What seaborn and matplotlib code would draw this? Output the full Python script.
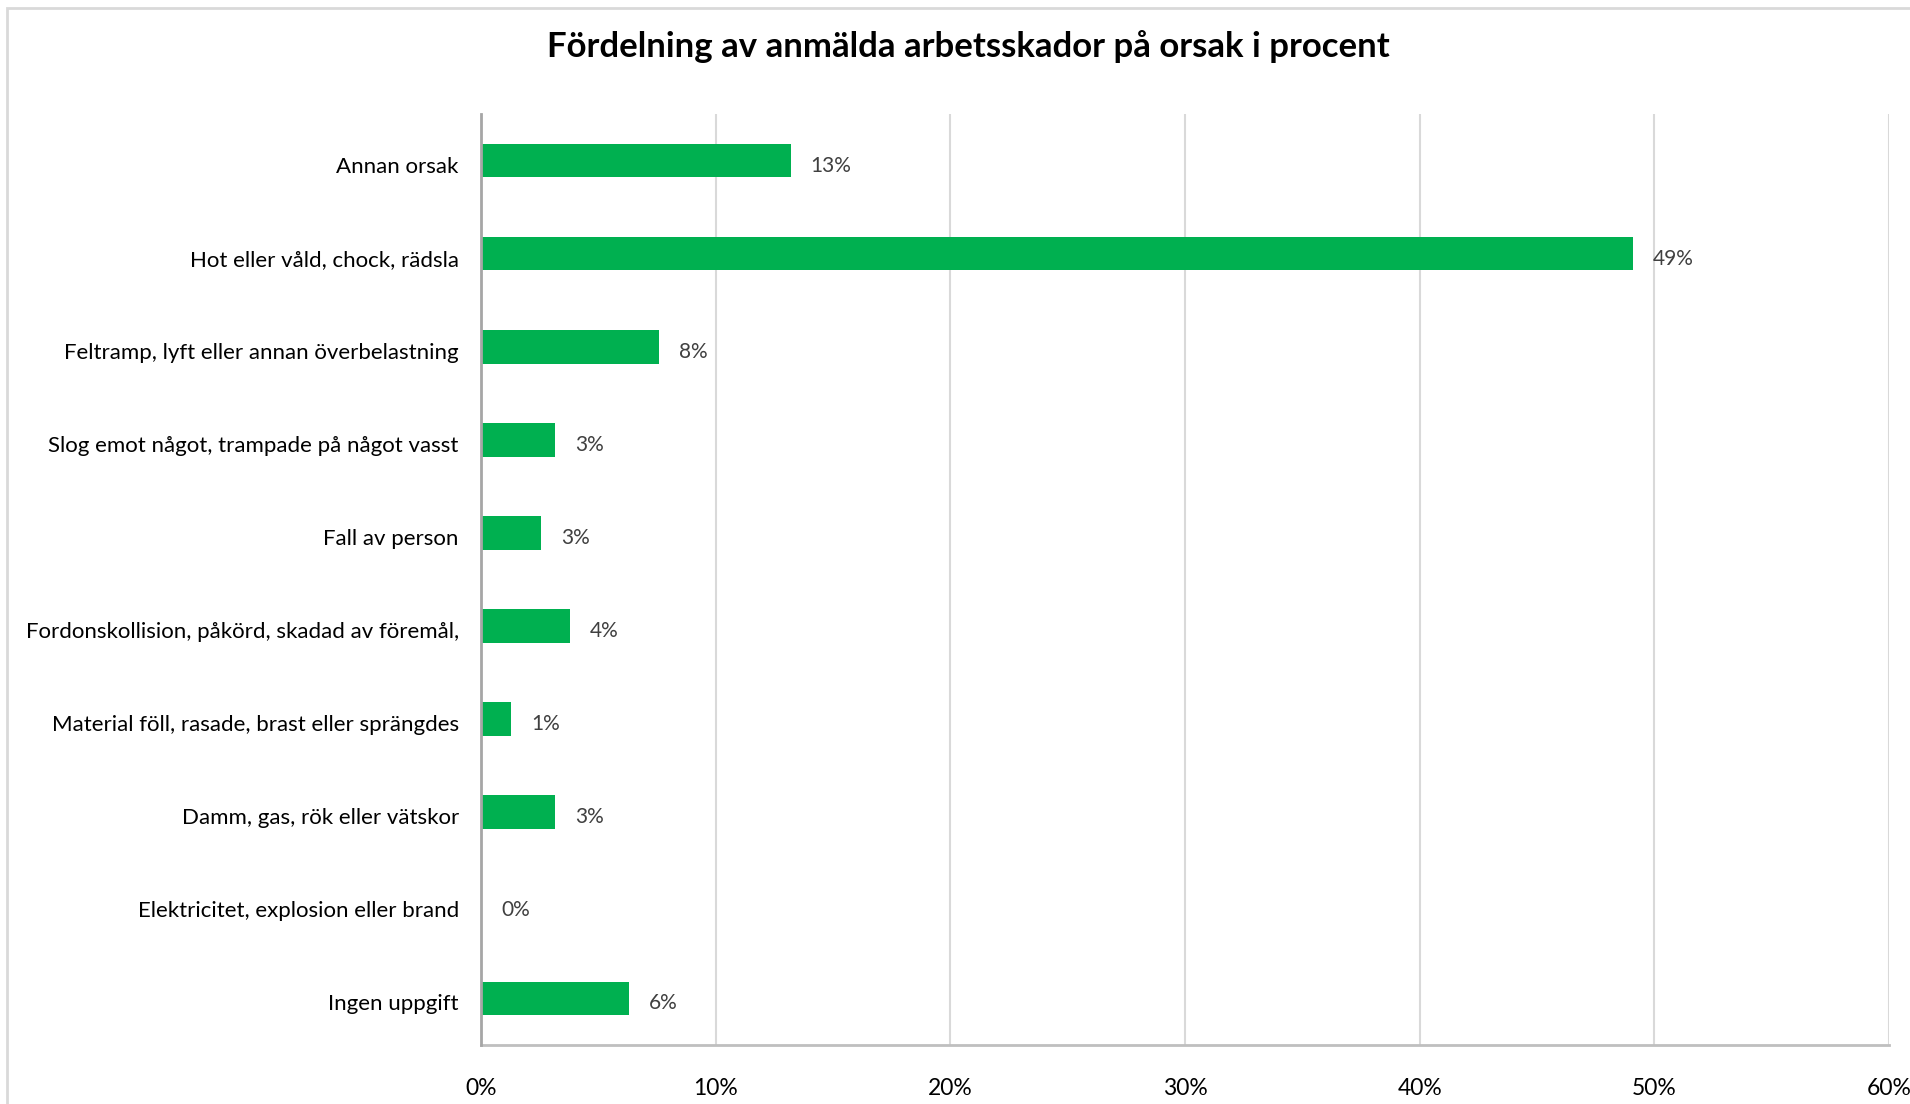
import matplotlib
matplotlib.use("Agg")
import matplotlib.pyplot as plt
import matplotlib.transforms as mtransforms
import seaborn as sns
import pandas as pd
from matplotlib.patches import Rectangle
from matplotlib.ticker import FuncFormatter

categories = [
    "Annan orsak",
    "Hot eller våld, chock, rädsla",
    "Feltramp, lyft eller annan överbelastning",
    "Slog emot något, trampade på något vasst",
    "Fall av person",
    "Fordonskollision, påkörd, skadad av föremål,",
    "Material föll, rasade, brast eller sprängdes",
    "Damm, gas, rök eller vätskor",
    "Elektricitet, explosion eller brand",
    "Ingen uppgift",
]
values = [13.2, 49.1, 7.6, 3.15, 2.55, 3.8, 1.28, 3.15, 0.0, 6.3]
value_labels = ["13%", "49%", "8%", "3%", "3%", "4%", "1%", "3%", "0%", "6%"]
x_ticks = [0, 10, 20, 30, 40, 50, 60]
title = "Fördelning av anmälda arbetsskador på orsak i procent"

sns.set_theme(style="white")
plt.rcParams["font.family"] = ["Lato", "DejaVu Sans"]

df = pd.DataFrame({"cat": categories, "val": values})

fig = plt.figure(figsize=(19.1, 11.04), dpi=100)
ax = fig.add_axes([481 / 1910, 1 - 1045 / 1104, (1889 - 481) / 1910, (1045 - 114) / 1104])

sns.barplot(data=df, x="val", y="cat", orient="h", color="#00B050", width=0.36,
            saturation=1, ax=ax, zorder=3, linewidth=0)

ax.set_xlim(0, 60)
ax.set_ylim(9.5, -0.5)
ax.set_xticks(x_ticks)
ax.xaxis.set_major_formatter(FuncFormatter(lambda v, p: f"{v:.0f}%"))
ax.grid(axis="x", color="#D9D9D9", linewidth=1.5, zorder=0)
ax.grid(axis="y", visible=False)
ax.set_axisbelow(True)
ax.set_xlabel("")
ax.set_ylabel("")

for s in ["top", "right"]:
    ax.spines[s].set_visible(False)
ax.spines["left"].set_color("#A6A6A6")
ax.spines["left"].set_linewidth(2)
ax.spines["left"].set_zorder(4)
ax.spines["bottom"].set_color("#BFBFBF")
ax.spines["bottom"].set_linewidth(2)

ax.tick_params(axis="x", length=0, pad=24, labelsize=16.5, labelcolor="black")
ax.tick_params(axis="y", length=0, pad=16, labelsize=16, labelcolor="black")

down = mtransforms.ScaledTranslation(0, -4 / 100, fig.dpi_scale_trans)
for lbl in ax.get_yticklabels():
    lbl.set_transform(lbl.get_transform() + down)

for i, (v, lab) in enumerate(zip(values, value_labels)):
    ax.annotate(lab, xy=(v, i), xytext=(20, -5), textcoords="offset pixels",
                ha="left", va="center", fontsize=15, color="#404040")

fig.text(968 / 1910, 1 - 47 / 1104, title, ha="center", va="center",
         fontsize=25, fontweight="bold", color="black")

fig.patches.append(Rectangle((7 / 1910, -0.01), 1.02, 1 - 8 / 1104 + 0.01,
                             transform=fig.transFigure, fill=False,
                             edgecolor="#D9D9D9", linewidth=2))

fig.savefig("out.png", dpi=100)
